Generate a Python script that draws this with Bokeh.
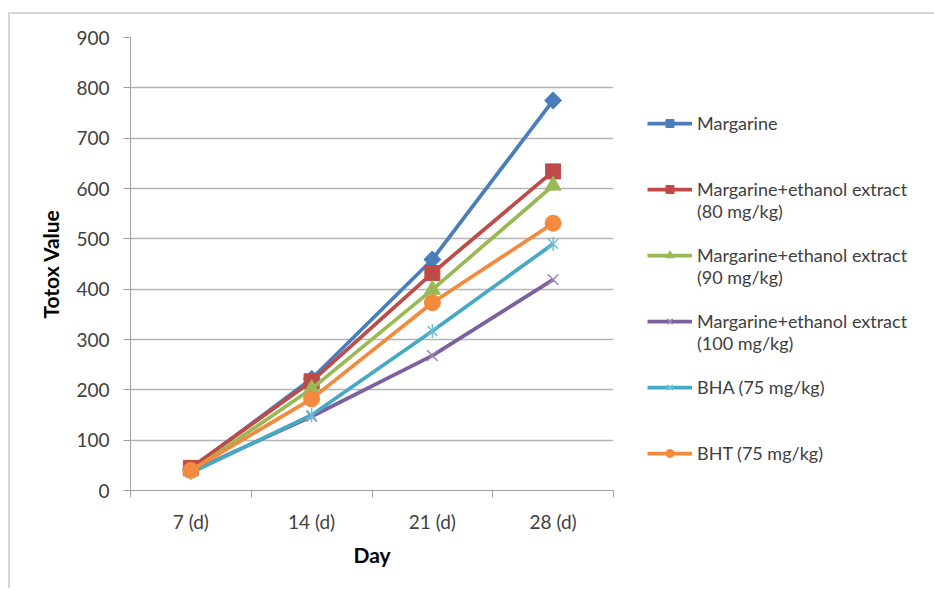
import math
from bokeh.plotting import figure
from bokeh.models import Range1d, FixedTicker, Legend, LegendItem
from bokeh.embed import file_html
from bokeh.resources import INLINE

days = ["7 (d)", "14 (d)", "21 (d)", "28 (d)"]
margarine = [43, 222, 459, 775]
ext80 = [45, 217, 432, 634]
ext90 = [38, 202, 399, 606]
ext100 = [38, 147, 268, 419]
bha = [35, 150, 317, 490]
bht = [40, 182, 373, 531]
y_ticks = [0, 100, 200, 300, 400, 500, 600, 700, 800, 900]

names = ["Margarine", "Margarine+ethanol extract\n(80 mg/kg)",
         "Margarine+ethanol extract\n(90 mg/kg)",
         "Margarine+ethanol extract\n(100 mg/kg)",
         "BHA (75 mg/kg)", "BHT (75 mg/kg)"]
series = [margarine, ext80, ext90, ext100, bha, bht]
colors = ["#4A7EBB", "#BE4B48", "#98B954", "#7D60A0", "#46AAC5", "#F38A3D"]

FONT = "Lato"
TXT = "#404040"

p = figure(width=922, height=574, output_backend="svg", toolbar_location=None,
           x_range=Range1d(0, len(days)), y_range=Range1d(0, 900),
           frame_width=483, frame_height=453,
           min_border_left=120, min_border_top=23, min_border_right=319,
           min_border_bottom=98)
p.styles = {"border-top": "2px solid #d6d6d6", "border-left": "2px solid #d6d6d6",
            "margin-top": "12px", "margin-left": "8px"}
p.outline_line_color = None
p.background_fill_color = "white"
p.border_fill_color = "white"

xs = [i + 0.5 for i in range(len(days))]
LW = 3.75
items = []
for i, (name, ys, c) in enumerate(zip(names, series, colors)):
    rs = [p.line(xs, ys, line_color=c, line_width=LW)]
    if i == 0:
        rs.append(p.scatter(xs, ys, marker="square", size=12, angle=math.pi / 4,
                            fill_color=c, line_color=c))
    elif i == 1:
        rs.append(p.scatter(xs, ys, marker="square", size=15, fill_color=c, line_color=c))
    elif i == 2:
        rs.append(p.scatter(xs, ys, marker="triangle", size=16, fill_color=c, line_color=c))
    elif i == 3:
        rs.append(p.scatter(xs, ys, marker="x", size=15, line_color="#9A86BC", line_width=1.5))
    elif i == 4:
        rs.append(p.scatter(xs, ys, marker="x", size=14, line_color="#6CC0D6", line_width=1.5))
        rs.append(p.scatter(xs, ys, marker="dash", size=14, angle=math.pi / 2,
                            line_color="#6CC0D6", line_width=1.5))
    else:
        rs.append(p.scatter(xs, ys, marker="circle", size=16, fill_color=c, line_color=c))
    # three text rows per entry so the glyph sits on the first text row
    label = "\n" + name + ("" if "\n" in name else "\n\u200b")
    items.append(LegendItem(label=label, renderers=rs))

p.xaxis.ticker = FixedTicker(ticks=xs, minor_ticks=list(range(len(days) + 1)))
p.xaxis.major_label_overrides = {x: d for x, d in zip(xs, days)}
p.xaxis.major_tick_line_color = None
p.xaxis.minor_tick_in = 0
p.xaxis.minor_tick_out = 7
p.xaxis.minor_tick_line_color = "#a0a0a0"
p.yaxis.ticker = FixedTicker(ticks=y_ticks)
p.yaxis.major_tick_in = 0
p.yaxis.major_tick_out = 7
p.yaxis.major_tick_line_color = "#a0a0a0"
p.yaxis.minor_tick_line_color = None
for ax in (p.xaxis, p.yaxis):
    ax.axis_line_color = "#a0a0a0"
    ax.major_label_text_font = FONT
    ax.major_label_text_font_size = "19px"
    ax.major_label_text_color = TXT
    ax.axis_label_text_font = FONT
    ax.axis_label_text_font_size = "21px"
    ax.axis_label_text_font_style = "bold"
    ax.axis_label_text_color = "black"
p.xaxis.axis_label = "Day"
p.yaxis.axis_label = "Totox Value"
p.xaxis.major_label_standoff = 12
p.yaxis.major_label_standoff = 14
p.xaxis.axis_label_standoff = 6
p.yaxis.axis_label_standoff = 10

p.xgrid.visible = False
p.ygrid.grid_line_color = "#b4b4b4"
p.ygrid.grid_line_width = 1.3

legend = Legend(items=items, location=(34, 4), orientation="vertical",
                glyph_width=45, glyph_height=20, label_standoff=5,
                label_text_font=FONT, label_text_font_size="18px",
                label_text_color=TXT,
                spacing=0, padding=0, margin=0,
                border_line_color=None, background_fill_alpha=0)
p.add_layout(legend, "right")

open("out.html", "w").write(file_html(p, INLINE))
